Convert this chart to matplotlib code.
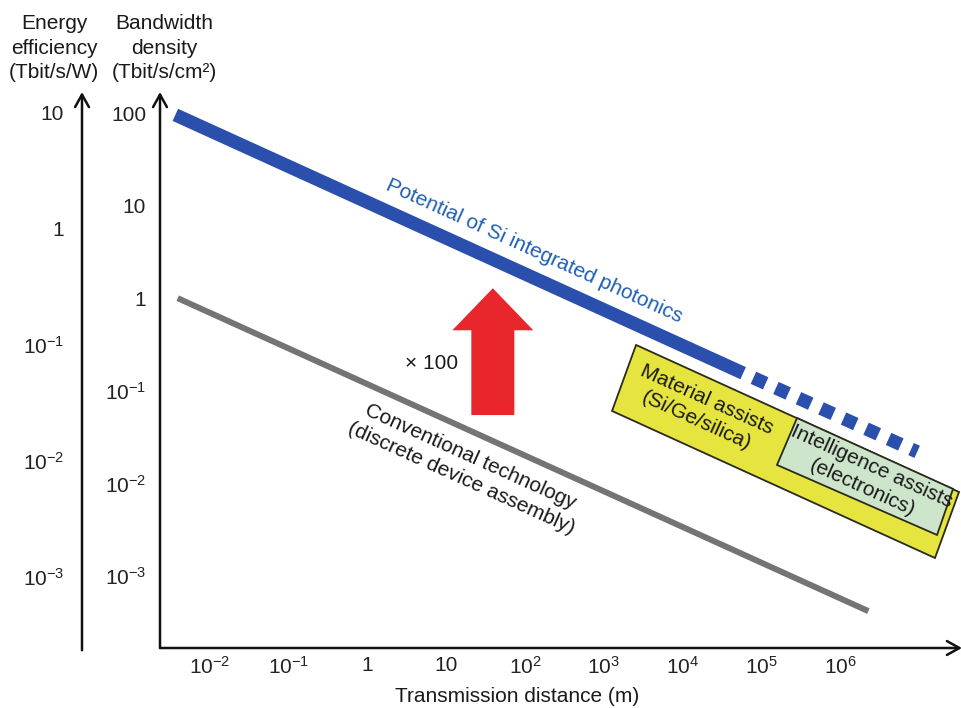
import numpy as np
import matplotlib
matplotlib.use("Agg")
import matplotlib.pyplot as plt
import matplotlib.patches as mpatches

plt.rcParams['font.family'] = ['Liberation Sans', 'DejaVu Sans']
plt.rcParams['mathtext.fontset'] = 'custom'
plt.rcParams['mathtext.rm'] = 'Liberation Sans'
plt.rcParams['mathtext.it'] = 'Liberation Sans:italic'
plt.rcParams['mathtext.default'] = 'regular'
plt.rcParams['lines.scale_dashes'] = False

# ---- data -------------------------------------------------------------
x_ticks = [1e-2, 1e-1, 1, 10, 1e2, 1e3, 1e4, 1e5, 1e6]
x_tick_labels = ['$10^{-2}$', '$10^{-1}$', '1', '10', '$10^{2}$', '$10^{3}$',
                 '$10^{4}$', '$10^{5}$', '$10^{6}$']
bw_ticks = [100, 10, 1, 1e-1, 1e-2, 1e-3]
bw_tick_labels = ['100', '10', '1', '$10^{-1}$', '$10^{-2}$', '$10^{-3}$']
ee_ticks = [10, 1, 1e-1, 1e-2, 1e-3]
ee_tick_labels = ['10', '1', '$10^{-1}$', '$10^{-2}$', '$10^{-3}$']

# Si photonics trend: demonstrated (solid) and projected (dashed)
si_dist = [3.63e-3, 5.89e4]
si_bw = [95.5, 0.155]
si_proj_dist = [5.89e4, 9.55e6]
si_proj_bw = [0.155, 0.0219]

# conventional discrete-device trend
conv_dist = [3.89e-3, 2.29e6]
conv_bw = [1.0, 4.17e-4]

# assist regions (log10 distance, log10 bandwidth density corners)
material_box = [(3.41, -0.505), (7.511, -2.093), (7.206, -2.806), (3.105, -1.218)]
intel_box = [(5.454, -1.294), (7.435, -2.060), (7.232, -2.557), (5.2, -1.801)]

# ---- colours ----------------------------------------------------------
BLUE = '#2b4fad'
BLUE_TXT = '#1e5eb4'
GRAY = '#747474'
RED = '#e8262b'
YELLOW = '#e6e43e'
GREEN = '#cde6cb'
EDGE = '#2a2a1e'
FS = 15

fig = plt.figure(figsize=(9.62, 7.08), dpi=100)
W, H = 962, 708

# main axes: transmission distance vs bandwidth density
ax = fig.add_axes([160 / W, 60 / H, 802 / W, 556 / H])
ax.set_xscale('log')
ax.set_yscale('log')
ax.set_xlim(10 ** -2.635, 10 ** 7.549)
ax.set_ylim(10 ** -3.778, 10 ** 2.227)
for s in ax.spines.values():
    s.set_visible(False)
ax.set_xticks(x_ticks)
ax.set_xticklabels(x_tick_labels)
ax.set_yticks(bw_ticks)
ax.set_yticklabels(bw_tick_labels)
ax.minorticks_off()
ax.tick_params(axis='both', length=0, labelsize=FS, colors='#222222')
ax.tick_params(axis='x', pad=6)
ax.tick_params(axis='y', pad=10)
ax.patch.set_alpha(0)

arrow_kw = dict(arrowstyle='->,head_length=0.45,head_width=0.25', lw=1.8,
                color='#111111', shrinkA=0, shrinkB=0, mutation_scale=20)
ax.annotate('', xy=(0, 1), xytext=(0, 0), xycoords='axes fraction',
            textcoords='axes fraction', arrowprops=arrow_kw, annotation_clip=False)
ax.annotate('', xy=(1, 0), xytext=(0, 0), xycoords='axes fraction',
            textcoords='axes fraction', arrowprops=arrow_kw, annotation_clip=False)

# energy-efficiency axis on the far left
ax2 = fig.add_axes([82 / W, 60 / H, 0.0001, 556 / H])
ax2.set_yscale('log')
ax2.set_ylim(10 ** -3.612, 10 ** 1.181)
for s in ax2.spines.values():
    s.set_visible(False)
ax2.set_xticks([])
ax2.set_yticks(ee_ticks)
ax2.set_yticklabels(ee_tick_labels)
ax2.minorticks_off()
ax2.tick_params(axis='y', length=0, labelsize=FS, pad=13, colors='#222222')
ax2.patch.set_alpha(0)
ax2.annotate('', xy=(0, 1), xytext=(0, -0.004), xycoords='axes fraction',
             textcoords='axes fraction', arrowprops=arrow_kw, annotation_clip=False)

# assist regions
ax.add_patch(mpatches.Polygon([(10 ** a, 10 ** b) for a, b in material_box],
                              closed=True, fc=YELLOW, ec=EDGE, lw=1.3,
                              clip_on=False, zorder=2))
ax.add_patch(mpatches.Polygon([(10 ** a, 10 ** b) for a, b in intel_box],
                              closed=True, fc=GREEN, ec=EDGE, lw=1.3,
                              clip_on=False, zorder=3))

# trend lines
ax.plot(si_dist, si_bw, color=BLUE, lw=9.6, solid_capstyle='butt', zorder=4)
ax.plot(si_proj_dist, si_proj_bw, color=BLUE, lw=9.6, dash_capstyle='butt',
        linestyle=(9.7, (9.7, 8.1)), zorder=4, clip_on=False)
ax.plot(conv_dist, conv_bw, color=GRAY, lw=4.3, solid_capstyle='butt', zorder=4)

# text angle follows the trend lines on screen
fig.canvas.draw()
p0 = ax.transData.transform((conv_dist[0], conv_bw[0]))
p1 = ax.transData.transform((conv_dist[1], conv_bw[1]))
ang = np.degrees(np.arctan2(p1[1] - p0[1], p1[0] - p0[0]))

txt_kw = dict(rotation=ang, rotation_mode='anchor', ha='center', va='center',
              fontsize=FS, multialignment='center', linespacing=1.3, zorder=6)
ax.text(130, 3.24, 'Potential of Si integrated photonics', color=BLUE_TXT, **txt_kw)
ax.text(17.8, 0.0147, 'Conventional technology\n(discrete device assembly)',
        color='#1a1a1a', **txt_kw)
ax.text(1.75e4, 0.0621, 'Material assists\n(Si/Ge/silica)', color='#1a1a1a', **txt_kw)
ax.text(2.2e6, 0.0117, 'Intelligence assists\n(electronics)', color='#1a1a1a', **txt_kw)

# x100 improvement arrow
ax.add_patch(mpatches.FancyArrow(0.415, 0.419, 0, 0.228, width=43 / 802,
                                 head_width=81 / 802, head_length=42 / 556,
                                 length_includes_head=True, color=RED, lw=0,
                                 transform=ax.transAxes, zorder=5))
ax.text(0.338, 0.511, '× 100', transform=ax.transAxes, ha='center', va='center',
        fontsize=FS, color='#1a1a1a')

# axis titles
fig.text(54 / W, 1 - 48 / H, 'Energy\nefficiency\n(Tbit/s/W)', ha='center',
         va='center', fontsize=FS, linespacing=1.38, color='#1a1a1a')
fig.text(164 / W, 1 - 48 / H, 'Bandwidth\ndensity\n(Tbit/s/cm²)', ha='center',
         va='center', fontsize=FS, linespacing=1.38, color='#1a1a1a')
fig.text(517 / W, 1 - 697 / H, 'Transmission distance (m)', ha='center',
         va='center', fontsize=FS, color='#1a1a1a')

fig.savefig('out.png', dpi=100)
